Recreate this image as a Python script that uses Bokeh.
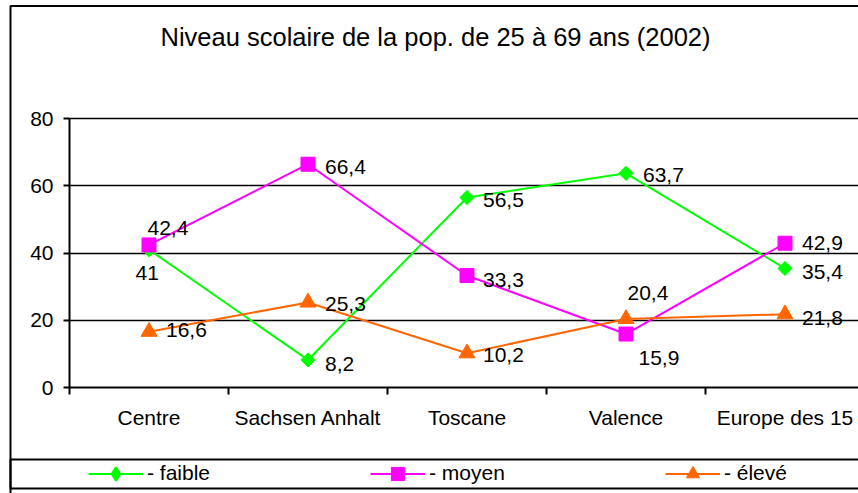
from bokeh.plotting import figure
from bokeh.models import (ColumnDataSource, Range1d, FixedTicker, Legend, LegendItem,
                          Label, BoxAnnotation)
from bokeh.core.properties import value
from bokeh.embed import file_html
from bokeh.resources import INLINE

# ---- data ----
categories = ["Centre", "Sachsen Anhalt", "Toscane", "Valence", "Europe des 15"]
faible = [41, 8.2, 56.5, 63.7, 35.4]
moyen = [42.4, 66.4, 33.3, 15.9, 42.9]
eleve = [16.6, 25.3, 10.2, 20.4, 21.8]
series_names = ["- faible", "- moyen", "- élevé"]
y_ticks = [0, 20, 40, 60, 80]
title_text = "Niveau scolaire de la pop. de 25 à 69 ans (2002)"

# ---- styles / layout (pixels) ----
FONT = "Liberation Sans"
colors = ["#00FF00", "#FF00FF", "#FF6600"]
label_dx = [[-13.5, 17, 16, 17, 17],
            [-1.5, 17, 16, 12.5, 17],
            [17, 17, 16, 1.5, 17]]
label_dy = [[23, 4.5, 2, 2, 4],
            [-17, 3, 4, 24, 0],
            [-2, 2, 2, -26, 4]]

W, H = 858, 493
FRAME_L, FRAME_T = 8, 4            # canvas position of frame (whole chart area)
PLOT_L, PLOT_T, PLOT_B = 69, 118, 387   # plot-area pixel edges
CAT_W = 159.0
n = len(categories)
px_per_unit = (PLOT_B - PLOT_T) / (y_ticks[-1] - y_ticks[0])
x0 = -0.5 - (PLOT_L - FRAME_L) / CAT_W
x1 = -0.5 + (W - PLOT_L) / CAT_W
y0 = y_ticks[0] - (H - PLOT_B) / px_per_unit
y1 = y_ticks[-1] + (PLOT_T - FRAME_T) / px_per_unit

p = figure(width=W, height=H, output_backend="svg", toolbar_location=None,
           x_range=Range1d(x0, x1), y_range=Range1d(y0, y1),
           min_border_left=FRAME_L, min_border_right=0, min_border_top=FRAME_T,
           min_border_bottom=0)
p.outline_line_color = None
p.background_fill_color = "white"
p.border_fill_color = "white"

xs = list(range(n))

# x axis: category labels at centres, tick marks at boundaries
xa = p.xaxis[0]
xa.fixed_location = y_ticks[0]
xa.bounds = (-0.5, n - 0.5)
xa.ticker = FixedTicker(ticks=xs, minor_ticks=[i - 0.5 for i in range(n + 1)])
xa.major_label_overrides = {i: c for i, c in enumerate(categories)}
xa.major_tick_line_color = None
xa.major_tick_out = 0
xa.major_tick_in = 0
xa.minor_tick_line_color = "black"
xa.minor_tick_line_width = 2
xa.minor_tick_out = 7
xa.minor_tick_in = 0
xa.axis_line_color = "black"
xa.axis_line_width = 2
xa.major_label_standoff = 11
xa.major_label_text_font = FONT
xa.major_label_text_font_size = "21px"
xa.major_label_text_color = "black"

ya = p.yaxis[0]
ya.fixed_location = -0.5
ya.bounds = (y_ticks[0], y_ticks[-1])
ya.ticker = FixedTicker(ticks=y_ticks, minor_ticks=[])
ya.major_tick_line_color = "black"
ya.major_tick_line_width = 2
ya.major_tick_out = 6
ya.major_tick_in = 0
ya.minor_tick_line_color = None
ya.axis_line_color = "black"
ya.axis_line_width = 2
ya.major_label_standoff = 10
ya.major_label_text_font = FONT
ya.major_label_text_font_size = "21px"
ya.major_label_text_color = "black"

p.xgrid.visible = False
p.ygrid.ticker = FixedTicker(ticks=y_ticks[1:])
p.ygrid.cross_bounds = (-0.5, x1)
p.ygrid.grid_line_color = "black"
p.ygrid.grid_line_width = 1.5

# series
all_series = [faible, moyen, eleve]
markers = [dict(marker="square", size=10, angle=0.7853981633974483),
           dict(marker="square", size=14, angle=0),
           dict(marker="triangle", size=16, angle=0)]
items = []
for k, (vals, name, col, mk, dx, dy) in enumerate(
        zip(all_series, series_names, colors, markers, label_dx, label_dy)):
    src = ColumnDataSource(dict(
        x=xs, y=vals,
        text=[f"{v:g}".replace(".", ",") for v in vals],
        dx=dx, dy=dy))
    lr = p.line("x", "y", source=src, line_color=col, line_width=2)
    rends = [lr]
    if k == 0:
        # diamond glyph (hidden under the rotated squares) used for the legend key
        dr = p.scatter("x", "y", source=src, marker="diamond", size=9,
                       fill_color=col, line_color=col, line_width=2)
        rends.append(dr)
    sr = p.scatter("x", "y", source=src, marker=mk["marker"], size=mk["size"],
                   angle=mk["angle"], fill_color=col, line_color=col)
    if k != 0:
        rends.append(sr)
    p.text("x", "y", text="text", x_offset="dx", y_offset="dy", source=src,
           text_font=value(FONT), text_font_size="21px", text_color="black",
           text_align="left", text_baseline="middle")
    items.append(LegendItem(label=name, renderers=rends))

# outer chart border and legend box
for top, bottom in [(5.5, 3000), (459, 488)]:
    p.add_layout(BoxAnnotation(left=10, right=3000, top=top, bottom=bottom,
                               left_units="canvas", right_units="canvas",
                               top_units="canvas", bottom_units="canvas",
                               fill_alpha=0, line_color="black", line_alpha=1,
                               line_width=2))

legend = Legend(items=items, orientation="horizontal", location=(80, 3.5),
                glyph_width=55, glyph_height=33, spacing=160, padding=0, margin=0,
                label_standoff=4, border_line_color=None, background_fill_alpha=0,
                label_text_font=FONT, label_text_font_size="21px",
                label_text_color="black")
p.add_layout(legend)

# title
p.add_layout(Label(x=427, y=457, x_units="screen", y_units="screen", text=title_text,
                   text_align="center", text_baseline="middle", text_font=FONT,
                   text_font_size="25.5px", text_color="black"))

open("out.html", "w").write(file_html(p, INLINE))
